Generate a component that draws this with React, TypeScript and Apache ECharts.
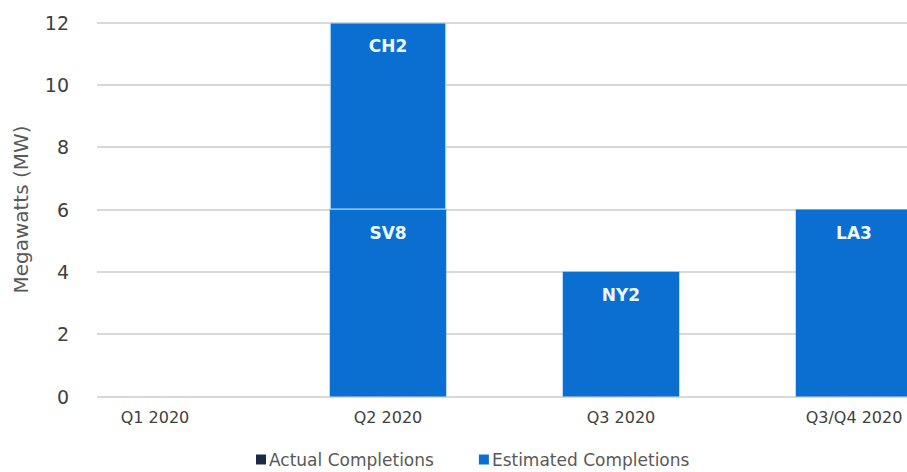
import React, { useEffect, useRef } from "react";
import * as echarts from "echarts";

const categories = ["Q1 2020", "Q2 2020", "Q3 2020", "Q3/Q4 2020"];
const actualValues: (number | null)[] = [null, null, null, null];
const estimatedBase: (number | null)[] = [null, 6, 4, 6];
const estimatedBaseLabels = ["", "SV8", "NY2", "LA3"];
const estimatedTop: (number | null)[] = [null, 6, null, null];
const estimatedTopLabels = ["", "CH2", "", ""];
const yTicks = { min: 0, max: 12, interval: 2 };

const FONT = "DejaVu Sans";
const BLUE = "#0a6fd1";
const NAVY = "#1c2a47";

export default function App() {
  const ref = useRef<HTMLDivElement>(null);
  useEffect(() => {
    if (!ref.current) return;
    const chart = echarts.init(ref.current, undefined, { renderer: "svg" });
    const labelFor = (labels: string[]) => ({
      show: true,
      position: "insideTop" as const,
      distance: 15,
      color: "#eef7ff",
      fontFamily: FONT,
      fontWeight: "bold" as const,
      fontSize: 17,
      formatter: (p: any) => labels[p.dataIndex] || "",
    });
    chart.setOption({
      animation: false,
      backgroundColor: "#ffffff",
      textStyle: { fontFamily: FONT },
      legend: {
        data: ["Actual Completions", "Estimated Completions"],
        left: 251,
        top: 446,
        itemWidth: 10,
        itemHeight: 10,
        itemGap: 45,
        icon: "rect",
        textStyle: { fontFamily: FONT, fontSize: 17, color: "#595959", padding: [0, 0, 0, -2] },
      },
      grid: [
        { left: 97, top: 22.5, width: 873, height: 374 },
        { left: 38.5, top: 22.5, width: 932, height: 374 },
      ],
      xAxis: [
        {
          type: "value",
          gridIndex: 0,
          show: false,
          min: 0,
          max: 1,
        },
        {
          type: "category",
          gridIndex: 1,
          data: categories,
          axisLine: { show: false },
          axisTick: { show: false },
          axisLabel: { fontFamily: FONT, fontSize: 16, color: "#404040", margin: 13 },
        },
      ],
      yAxis: [
        {
          type: "value",
          gridIndex: 0,
          min: yTicks.min,
          max: yTicks.max,
          interval: yTicks.interval,
          name: "Megawatts (MW)",
          nameLocation: "middle",
          nameGap: 66,
          nameTextStyle: { fontFamily: FONT, fontSize: 20, color: "#595959" },
          axisLine: { show: false },
          axisTick: { show: false },
          axisLabel: { fontFamily: FONT, fontSize: 19, color: "#404040", margin: 28 },
          splitLine: { lineStyle: { color: "#d9d9d9", width: 2 } },
        },
        {
          type: "value",
          gridIndex: 1,
          min: yTicks.min,
          max: yTicks.max,
          interval: yTicks.interval,
          show: false,
          splitLine: { show: false },
        },
      ],
      series: [
        {
          name: "Actual Completions",
          type: "bar",
          xAxisIndex: 1,
          yAxisIndex: 1,
          stack: "total",
          barWidth: "50%",
          data: actualValues,
          itemStyle: { color: NAVY },
        },
        {
          name: "Estimated Completions",
          type: "bar",
          xAxisIndex: 1,
          yAxisIndex: 1,
          stack: "total",
          barWidth: "50%",
          data: estimatedBase,
          itemStyle: { color: BLUE },
          label: labelFor(estimatedBaseLabels),
        },
        {
          name: "Estimated Completions (upper)",
          type: "bar",
          xAxisIndex: 1,
          yAxisIndex: 1,
          stack: "total",
          barWidth: "50%",
          data: estimatedTop,
          itemStyle: { color: BLUE, borderColor: "#b8def9", borderWidth: 1 },
          label: labelFor(estimatedTopLabels),
        },
      ],
    });
    return () => chart.dispose();
  }, []);
  return (
    <div
      ref={ref}
      style={{ position: "fixed", left: 0, top: 0, width: 980, height: 472, background: "#fff" }}
    />
  );
}
